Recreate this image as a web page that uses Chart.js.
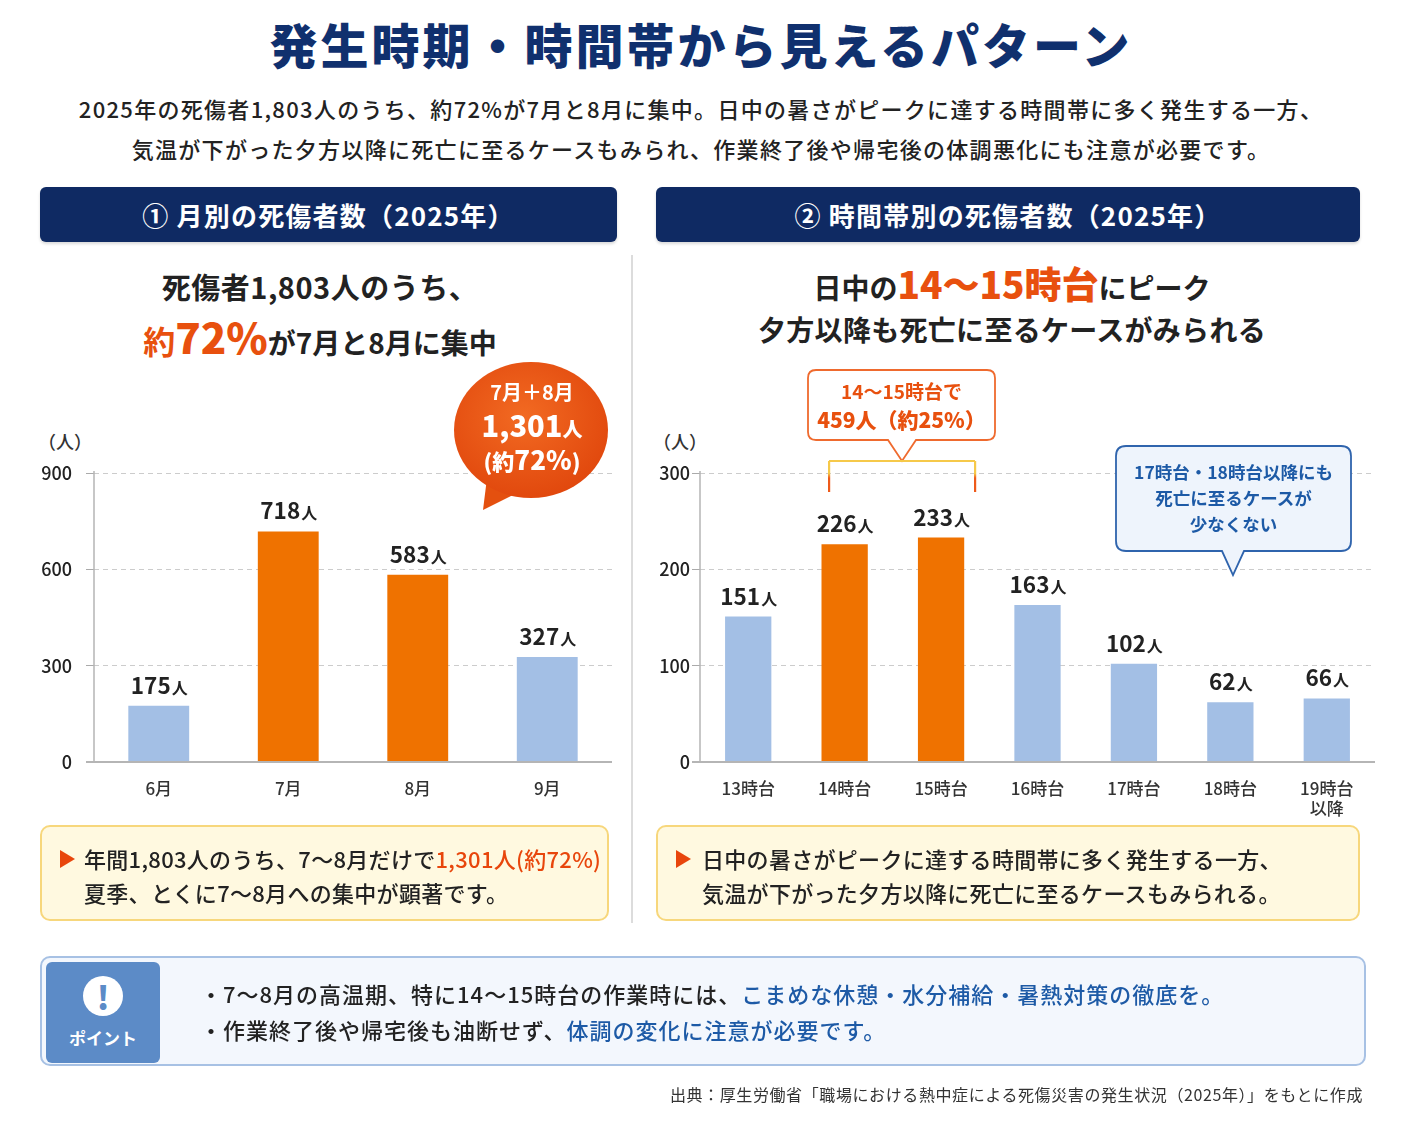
<!DOCTYPE html>
<html lang="ja">
<head>
<meta charset="utf-8">
<script src="https://cdn.jsdelivr.net/npm/chart.js@4.4.1/dist/chart.umd.min.js"></script>
<style>
  html,body{margin:0;padding:0;background:#fff;}
  body{width:1402px;height:1122px;position:relative;overflow:hidden;
       font-family:"Noto Sans CJK JP","Noto Sans",sans-serif;color:#222;}
  .abs{position:absolute;}
  .c{text-align:center;white-space:nowrap;}
  .title{left:0;width:1402px;top:12px;font-size:48px;letter-spacing:3px;font-weight:900;color:#10306e;line-height:62px;}
  .sub{left:0;width:1402px;font-size:22px;letter-spacing:1.3px;font-weight:500;color:#222;line-height:30px;}
  .sec{top:187px;height:55px;background:#0f2a63;border-radius:6px;color:#fff;font-size:26px;letter-spacing:1.2px;
       font-weight:700;line-height:55px;box-shadow:0 2px 3px rgba(0,0,0,.15);}
  .head{font-size:28px;font-weight:700;color:#222;line-height:40px;}
  .or{color:#e8500e;}
  .unit{font-size:18px;color:#333;font-weight:500;}
  .note{top:825px;height:96px;background:#fff9e0;border:2px solid #f7d77c;border-radius:10px;box-sizing:border-box;}
  .note .tx{position:absolute;font-size:22px;letter-spacing:0.3px;font-weight:500;line-height:34px;white-space:nowrap;color:#222;}
  .tri{position:absolute;width:0;height:0;border-top:9px solid transparent;border-bottom:9px solid transparent;border-left:15px solid #e8460c;}
  .blue{color:#1d5aa6;}
  .pt{position:absolute;left:200px;font-size:22px;letter-spacing:1px;font-weight:500;line-height:32px;white-space:nowrap;color:#222;}
</style>
</head>
<body>
<script>
// ===== DATA =====
const monthLabels = ['6月', '7月', '8月', '9月'];
const monthValues = [175, 718, 583, 327];
const monthHighlight = [false, true, true, false];
const monthTicks = [0, 300, 600, 900];

const hourLabels = ['13時台', '14時台', '15時台', '16時台', '17時台', '18時台', ['19時台', '以降']];
const hourValues = [151, 226, 233, 163, 102, 62, 66];
const hourHighlight = [false, true, true, false, false, false, false];
const hourTicks = [0, 100, 200, 300];
</script>

<div class="abs c title">発生時期・時間帯から見えるパターン</div>
<div class="abs c sub" style="top:93px;">2025年の死傷者1,803人のうち、約72%が7月と8月に集中。日中の暑さがピークに達する時間帯に多く発生する一方、</div>
<div class="abs c sub" style="top:133px;">気温が下がった夕方以降に死亡に至るケースもみられ、作業終了後や帰宅後の体調悪化にも注意が必要です。</div>

<div class="abs c sec" style="left:40px;width:577px;">① 月別の死傷者数（2025年）</div>
<div class="abs c sec" style="left:656px;width:704px;">② 時間帯別の死傷者数（2025年）</div>

<div class="abs" style="left:631px;top:255px;width:2px;height:668px;background:#dcdcdc;"></div>

<!-- left heading -->
<div class="abs c head" style="left:20px;width:600px;top:266px;font-size:29px;letter-spacing:0.5px;">死傷者1,803人のうち、</div>
<div class="abs c head" style="left:20px;width:600px;top:310px;line-height:52px;"><span class="or" style="font-size:32px;">約</span><span class="or" style="font-size:42px;font-weight:900;">72%</span>が7月と8月に集中</div>

<!-- right heading -->
<div class="abs c head" style="left:650px;width:724px;top:259px;line-height:48px;">日中の<span class="or" style="font-size:37px;font-weight:900;">14〜15時台</span>にピーク</div>
<div class="abs c head" style="left:650px;width:724px;top:309px;letter-spacing:0.3px;">夕方以降も死亡に至るケースがみられる</div>

<!-- unit labels -->
<div class="abs unit" style="left:38px;top:428px;">（人）</div>
<div class="abs unit" style="left:653px;top:428px;">（人）</div>

<!-- charts -->
<canvas id="c1" class="abs" style="left:30px;top:430px;width:590px;height:390px;"></canvas>
<canvas id="c2" class="abs" style="left:640px;top:430px;width:745px;height:390px;"></canvas>

<!-- SVG callouts -->
<svg class="abs" style="left:0;top:0;" width="1402" height="1122" pointer-events="none">
  <defs>
    <radialGradient id="bg1" cx="45%" cy="40%" r="65%">
      <stop offset="0%" stop-color="#f26a22"/>
      <stop offset="100%" stop-color="#e0460c"/>
    </radialGradient>
    <linearGradient id="brk" x1="0" y1="0" x2="0" y2="1">
      <stop offset="0%" stop-color="#f6c94a"/>
      <stop offset="40%" stop-color="#f6c94a"/>
      <stop offset="55%" stop-color="#ee5a1a"/>
      <stop offset="100%" stop-color="#ee5a1a"/>
    </linearGradient>
  </defs>
  <!-- orange speech bubble -->
  <path d="M487 478 L483 510 L515 494 Z" fill="#e4500f"/>
  <ellipse cx="531" cy="430" rx="77" ry="68" fill="url(#bg1)"/>
  <!-- orange box callout -->
  <path d="M816 370 H987 Q995 370 995 378 V432 Q995 440 987 440 H916 L902 461 L888 440 H816 Q808 440 808 432 V378 Q808 370 816 370 Z"
        fill="#fff" stroke="#ef6a2e" stroke-width="1.8"/>
  <!-- bracket -->
  <line x1="829" y1="461" x2="975" y2="461" stroke="#f6c94a" stroke-width="2"/>
  <rect x="828" y="461" width="2.2" height="31" fill="url(#brk)"/>
  <rect x="974" y="461" width="2.2" height="31" fill="url(#brk)"/>
  <!-- blue callout -->
  <path d="M1126 446 H1341 Q1351 446 1351 456 V541 Q1351 551 1341 551 H1244 L1233 575 L1222 551 H1126 Q1116 551 1116 541 V456 Q1116 446 1126 446 Z"
        fill="#eef4fc" stroke="#2f64ad" stroke-width="1.8"/>
</svg>

<!-- bubble texts -->
<div class="abs c" style="left:455px;width:154px;top:378px;color:#fff;font-weight:700;font-size:20px;line-height:28px;">7月＋8月</div>
<div class="abs c" style="left:455px;width:154px;top:405px;color:#fff;font-weight:800;font-size:29px;line-height:38px;">1,301<span style="font-size:20px;">人</span></div>
<div class="abs c" style="left:455px;width:154px;top:443px;color:#fff;font-weight:800;font-size:22px;line-height:32px;">(約<span style="font-size:26px;">72%</span>)</div>

<div class="abs c" style="left:808px;width:187px;top:377px;color:#e8500e;font-weight:700;font-size:19px;line-height:28px;">14〜15時台で</div>
<div class="abs c" style="left:808px;width:187px;top:404px;color:#e8500e;font-weight:800;font-size:21px;line-height:30px;">459人（約25%）</div>

<div class="abs c" style="left:1116px;width:235px;top:459px;color:#1d5aa6;font-weight:700;font-size:17.5px;line-height:26px;">17時台・18時台以降にも<br>死亡に至るケースが<br>少なくない</div>

<!-- notes -->
<div class="abs note" style="left:40px;width:569px;">
  <div class="tri" style="left:18px;top:23px;"></div>
  <div class="tx" style="left:42px;top:14px;">年間1,803人のうち、7〜8月だけで<span style="color:#e8460c;">1,301人(約72%)</span></div>
  <div class="tx" style="left:42px;top:48px;">夏季、とくに7〜8月への集中が顕著です。</div>
</div>
<div class="abs note" style="left:656px;width:704px;">
  <div class="tri" style="left:18px;top:23px;"></div>
  <div class="tx" style="left:44px;top:14px;">日中の暑さがピークに達する時間帯に多く発生する一方、</div>
  <div class="tx" style="left:44px;top:48px;">気温が下がった夕方以降に死亡に至るケースもみられる。</div>
</div>

<!-- point box -->
<div class="abs" style="left:40px;top:956px;width:1326px;height:110px;background:#f3f7fd;border:2px solid #a7c1e4;border-radius:10px;box-sizing:border-box;"></div>
<div class="abs" style="left:46px;top:962px;width:114px;height:101px;background:#5c8bc7;border-radius:6px;"></div>
<div class="abs" style="left:83px;top:976px;width:40px;height:40px;border-radius:50%;background:#fff;color:#5c8bc7;font-size:32px;font-weight:900;line-height:40px;text-align:center;">!</div>
<div class="abs c" style="left:46px;width:114px;top:1024px;color:#fff;font-size:17px;font-weight:700;line-height:28px;">ポイント</div>
<div class="pt" style="top:977px;">・7〜8月の高温期、特に14〜15時台の作業時には、<span class="blue">こまめな休憩・水分補給・暑熱対策の徹底を。</span></div>
<div class="pt" style="top:1013px;">・作業終了後や帰宅後も油断せず、<span class="blue">体調の変化に注意が必要です。</span></div>

<div class="abs" style="right:39px;top:1082px;font-size:16px;letter-spacing:0.6px;color:#333;white-space:nowrap;line-height:24px;">出典：厚生労働省「職場における熱中症による死傷災害の発生状況（2025年）」をもとに作成</div>

<script>
const ORANGE = '#ef7200';
const BLUE = '#a3bfe5';
const FONT = '"Noto Sans CJK JP","Noto Sans",sans-serif';

const valueLabelPlugin = {
  id: 'valueLabels',
  afterDatasetsDraw(chart, args, opts) {
    const ctx = chart.ctx;
    const meta = chart.getDatasetMeta(0);
    const data = chart.data.datasets[0].data;
    ctx.save();
    ctx.fillStyle = '#222';
    ctx.textBaseline = 'alphabetic';
    meta.data.forEach((bar, i) => {
      const num = String(data[i]);
      ctx.font = `700 ${opts.numSize}px ${FONT}`;
      const w1 = ctx.measureText(num).width;
      ctx.font = `700 ${opts.unitSize}px ${FONT}`;
      const w2 = ctx.measureText('人').width;
      const x0 = bar.x - (w1 + w2) / 2;
      const y = bar.y - opts.gap;
      ctx.font = `700 ${opts.numSize}px ${FONT}`;
      ctx.textAlign = 'left';
      ctx.fillText(num, x0, y);
      ctx.font = `700 ${opts.unitSize}px ${FONT}`;
      ctx.fillText('人', x0 + w1 + 1, y);
    });
    ctx.restore();
  }
};

const solidYAxisPlugin = {
  id: 'solidYAxis',
  afterDraw(chart) {
    const { ctx, chartArea } = chart;
    ctx.save();
    ctx.strokeStyle = '#b5b5b5';
    ctx.lineWidth = 1.5;
    ctx.beginPath();
    ctx.moveTo(chartArea.left, chartArea.top - 2);
    ctx.lineTo(chartArea.left, chartArea.bottom);
    ctx.stroke();
    ctx.strokeStyle = '#b5b5b5';
    ctx.lineWidth = 2;
    ctx.beginPath();
    ctx.moveTo(chartArea.left - 8, chartArea.bottom);
    ctx.lineTo(chartArea.right, chartArea.bottom);
    ctx.stroke();
    ctx.restore();
  }
};

function makeChart(id, labels, values, highlight, ticks, cfg) {
  return new Chart(document.getElementById(id), {
    type: 'bar',
    data: {
      labels: labels,
      datasets: [{
        data: values,
        backgroundColor: highlight.map(h => h ? ORANGE : BLUE),
        barPercentage: cfg.barPct,
        categoryPercentage: 1.0,
        borderWidth: 0
      }]
    },
    options: {
      responsive: false,
      animation: false,
      devicePixelRatio: 1,
      layout: { padding: { top: 43, right: cfg.padRight, left: 0, bottom: 0 } },
      plugins: {
        legend: { display: false },
        tooltip: { enabled: false },
        valueLabels: { numSize: 22.5, unitSize: 16, gap: 12 }
      },
      scales: {
        x: {
          grid: { display: false, drawTicks: false },
          border: { display: false },
          ticks: { color: '#333', font: { family: FONT, size: 17, weight: 500 }, padding: 16, maxRotation: 0, autoSkip: false },
          afterFit(scale) { scale.height = 58; }
        },
        y: {
          min: 0,
          max: ticks[ticks.length - 1],
          afterBuildTicks(scale) { scale.ticks = ticks.map(v => ({ value: v })); },
          grid: {
            color: '#cccccc',
            lineWidth: 1,
            tickLength: 8,
            tickColor: '#aaa',
            drawTicks: true
          },
          border: { display: false, dash: [5, 4] },
          ticks: { color: '#222', font: { family: FONT, size: 18, weight: 500 }, padding: cfg.tickPad },
          afterFit(scale) { scale.width = cfg.yWidth; }
        }
      }
    },
    plugins: [valueLabelPlugin, solidYAxisPlugin]
  });
}

const c1 = document.getElementById('c1');
c1.width = 590; c1.height = 390;
const c2 = document.getElementById('c2');
c2.width = 745; c2.height = 390;

makeChart('c1', monthLabels, monthValues, monthHighlight, monthTicks,
  { barPct: 0.47, padRight: 8, yWidth: 64, tickPad: 14 });
makeChart('c2', hourLabels, hourValues, hourHighlight, hourTicks,
  { barPct: 0.48, padRight: 10, yWidth: 60, tickPad: 2 });
</script>
</body>
</html>
